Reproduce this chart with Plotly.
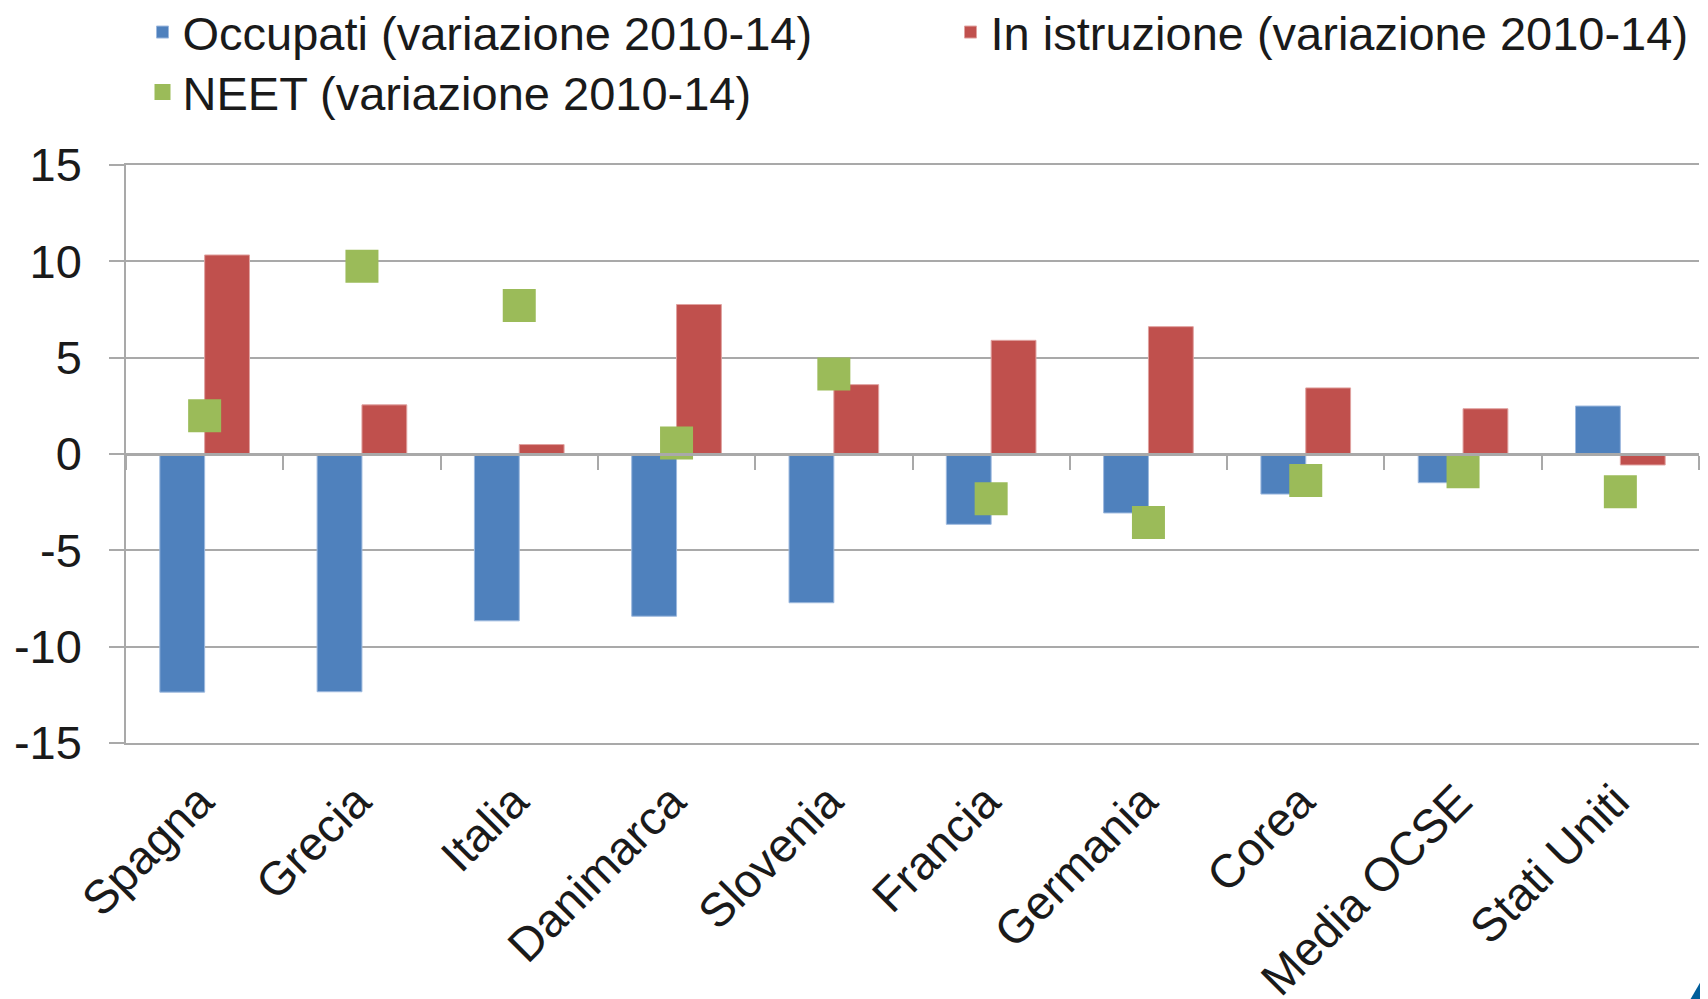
import plotly.graph_objects as go

categories = ["Spagna", "Grecia", "Italia", "Danimarca", "Slovenia",
              "Francia", "Germania", "Corea", "Media OCSE", "Stati Uniti"]
occupati = [-12.36, -12.34, -8.66, -8.42, -7.72, -3.65, -3.06, -2.08, -1.49, 2.49]
istruzione = [10.33, 2.55, 0.49, 7.76, 3.60, 5.90, 6.61, 3.43, 2.35, -0.57]
neet = [1.98, 9.74, 7.71, 0.57, 4.15, -2.32, -3.56, -1.38, -0.92, -1.96]

y_ticks = [-15, -10, -5, 0, 5, 10, 15]
y_ticktext = ["-15", "-10", "-5", "0", "5", "10", "15"]

FONT = "Liberation Sans, Arial, sans-serif"
GRID = "#A9A9A9"

# the page body adds an 8px offset; figure coordinates below compensate for it
W, H = 1708, 999
L, R, T, B = 118, 17, 157, 264
pw = W - L - R
ph = H - T - B


def px(x):
    return (x - L) / pw


def py(y):
    return (H - B - y) / ph


fig = go.Figure()
fig.add_trace(go.Bar(x=categories, y=occupati, name="Occupati (variazione 2010-14)",
                     legend="legend",
                     marker=dict(color="#4F81BD", line=dict(color="#9DB9DE", width=1))))
fig.add_trace(go.Bar(x=categories, y=istruzione, name="In istruzione (variazione 2010-14)",
                     legend="legend2",
                     marker=dict(color="#C0504D", line=dict(color="#E0A2A0", width=1))))
fig.add_trace(go.Scatter(x=categories, y=neet, name="NEET (variazione 2010-14)", mode="markers",
                         xaxis="x2", legend="legend3",
                         marker=dict(symbol="square", size=33, color="#9BBB59")))

legend_common = dict(orientation="v", xref="paper", yref="paper", xanchor="left", yanchor="top",
                     font=dict(size=47, family=FONT, color="#1A1A1A"), itemwidth=30,
                     bgcolor="rgba(0,0,0,0)", borderwidth=0)

fig.update_layout(
    width=W, height=H,
    margin=dict(l=L, r=R, t=T, b=B, pad=0, autoexpand=False),
    paper_bgcolor="white", plot_bgcolor="white",
    barmode="group", bargap=0.43, bargroupgap=0,
    font=dict(family=FONT, size=47, color="#1A1A1A"),
    showlegend=True,
    legend=dict(x=px(134.5), y=py(-13), **legend_common),
    legend2=dict(x=px(942.5), y=py(-13), **legend_common),
    legend3=dict(x=px(134.5), y=py(47), **legend_common),
    xaxis=dict(type="category", range=[-0.5, 9.5], showgrid=False,
               showline=True, mirror=True, linecolor=GRID, linewidth=1.5, ticks="",
               tickangle=-45, tickfont=dict(size=47), zeroline=False,
               ticklabelstandoff=10, ticklabelshift=-5),
    xaxis2=dict(type="category", overlaying="x", anchor="free", position=0.5, range=[-0.5, 9.5],
                showline=True, linecolor=GRID, linewidth=2.5,
                ticks="outside", tickson="boundaries", ticklen=14, tickwidth=2, tickcolor=GRID,
                showticklabels=False, showgrid=False, zeroline=False),
    yaxis=dict(range=[-15, 15], tickvals=y_ticks, ticktext=y_ticktext,
               showgrid=True, gridcolor=GRID, gridwidth=1.5,
               zeroline=True, zerolinecolor=GRID, zerolinewidth=2.5,
               showline=True, linecolor=GRID, linewidth=1.5,
               ticks="outside", ticklen=15, tickwidth=1.5, tickcolor=GRID,
               ticklabelstandoff=18, tickfont=dict(size=47)),
)

# slide corner decoration (blue triangle bottom-right)
fig.add_shape(type="path", xref="paper", yref="paper",
              path=f"M {px(1682)} {py(992)} L {px(1701)} {py(959)} L {px(1701)} {py(992)} Z",
              fillcolor="#005E9B", line=dict(width=0), layer="above")

fig.write_html("out.html")
